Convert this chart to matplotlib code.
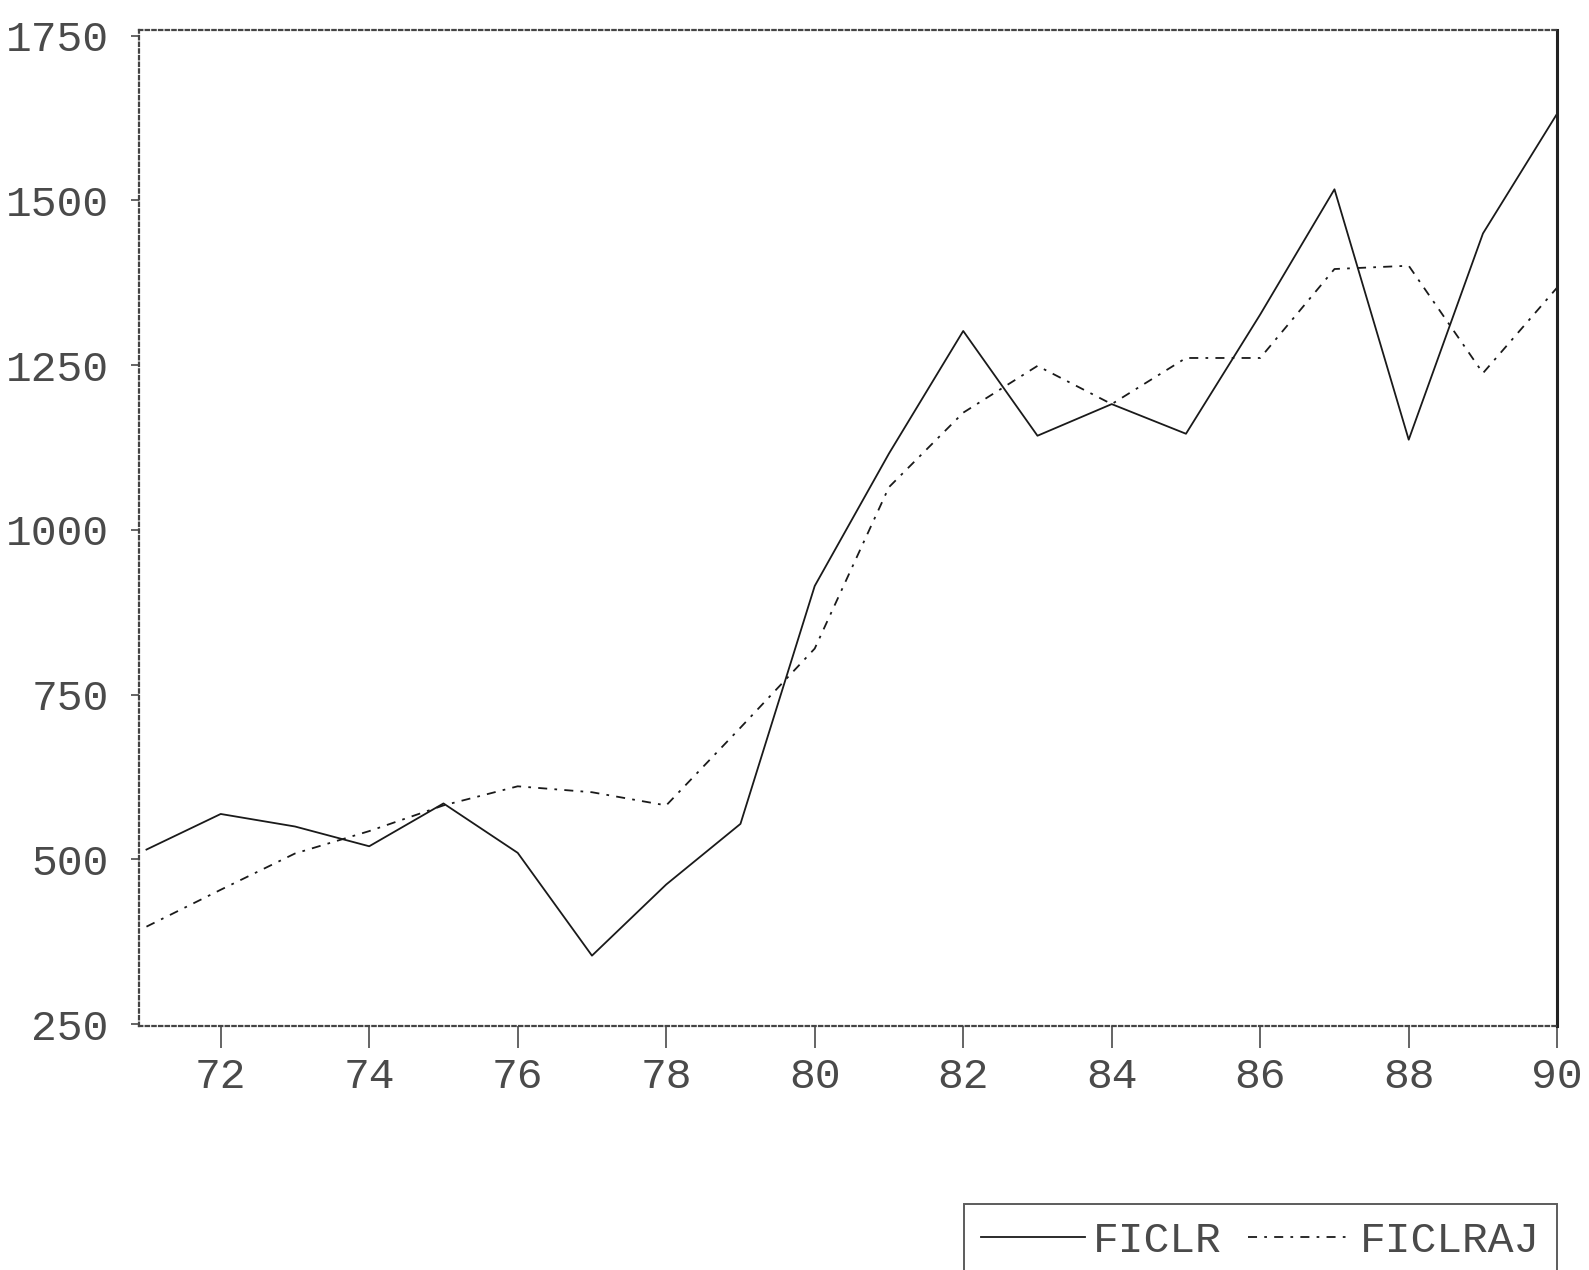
import matplotlib.pyplot as plt
import numpy as np

# annual observations, 1971-1990
years = np.arange(71, 91)
ficlr = [515, 569, 550, 520, 585, 510, 354, 462, 554, 915,
         1116, 1302, 1143, 1191, 1146, 1327, 1517, 1137, 1450, 1632]
ficlraj = [398, 454, 509, 543, 582, 611, 602, 582, 700, 820,
           1065, 1178, 1249, 1191, 1261, 1261, 1396, 1401, 1238, 1368]

xticks = [72, 74, 76, 78, 80, 82, 84, 86, 88, 90]
yticks = [250, 500, 750, 1000, 1250, 1500, 1750]

plt.rcParams['font.family'] = ['Liberation Mono', 'DejaVu Sans Mono']

fig = plt.figure(figsize=(15.89, 12.70), dpi=100)
ax = fig.add_axes([0.0875, 0.192, 0.8925, 0.784])

ax.plot(years, ficlr, color='#1a1a1a', lw=1.3, ls='-', label='FICLR')
ax.plot(years, ficlraj, color='#1a1a1a', lw=1.3, ls=(0, (5, 4, 1.5, 4)), label='FICLRAJ')

ax.set_xlim(70.9, 90)
ax.set_ylim(247, 1758)
ax.set_xticks(xticks)
ax.set_yticks(yticks)
ax.set_xticklabels([str(t) for t in xticks])
ax.set_yticklabels([str(t) for t in yticks])

ax.tick_params(axis='x', direction='out', length=16, width=1.2, pad=6,
               labelsize=31, colors='#4a4a4a')
ax.tick_params(axis='y', direction='out', length=6, width=1.2, pad=16,
               labelsize=31, colors='#4a4a4a')

for side in ['left', 'top', 'bottom']:
    ax.spines[side].set_linestyle((0, (1.5, 1.5)))
    ax.spines[side].set_color('#444444')
    ax.spines[side].set_linewidth(1.6)
ax.spines['right'].set_color('#222222')
ax.spines['right'].set_linewidth(2.2)

# legend box hangs off the bottom edge of the page
leg = fig.legend(loc='upper right', bbox_to_anchor=(0.98, 0.052), ncol=2,
                 fontsize=31, frameon=True, fancybox=False, handlelength=2.4,
                 handletextpad=0.2, columnspacing=0.6, borderpad=0.4,
                 borderaxespad=0.0)
leg.get_frame().set_edgecolor('#333333')
leg.get_frame().set_linewidth(1.4)
for txt in leg.get_texts():
    txt.set_color('#4a4a4a')

fig.savefig('out.png', dpi=100, facecolor='white')
